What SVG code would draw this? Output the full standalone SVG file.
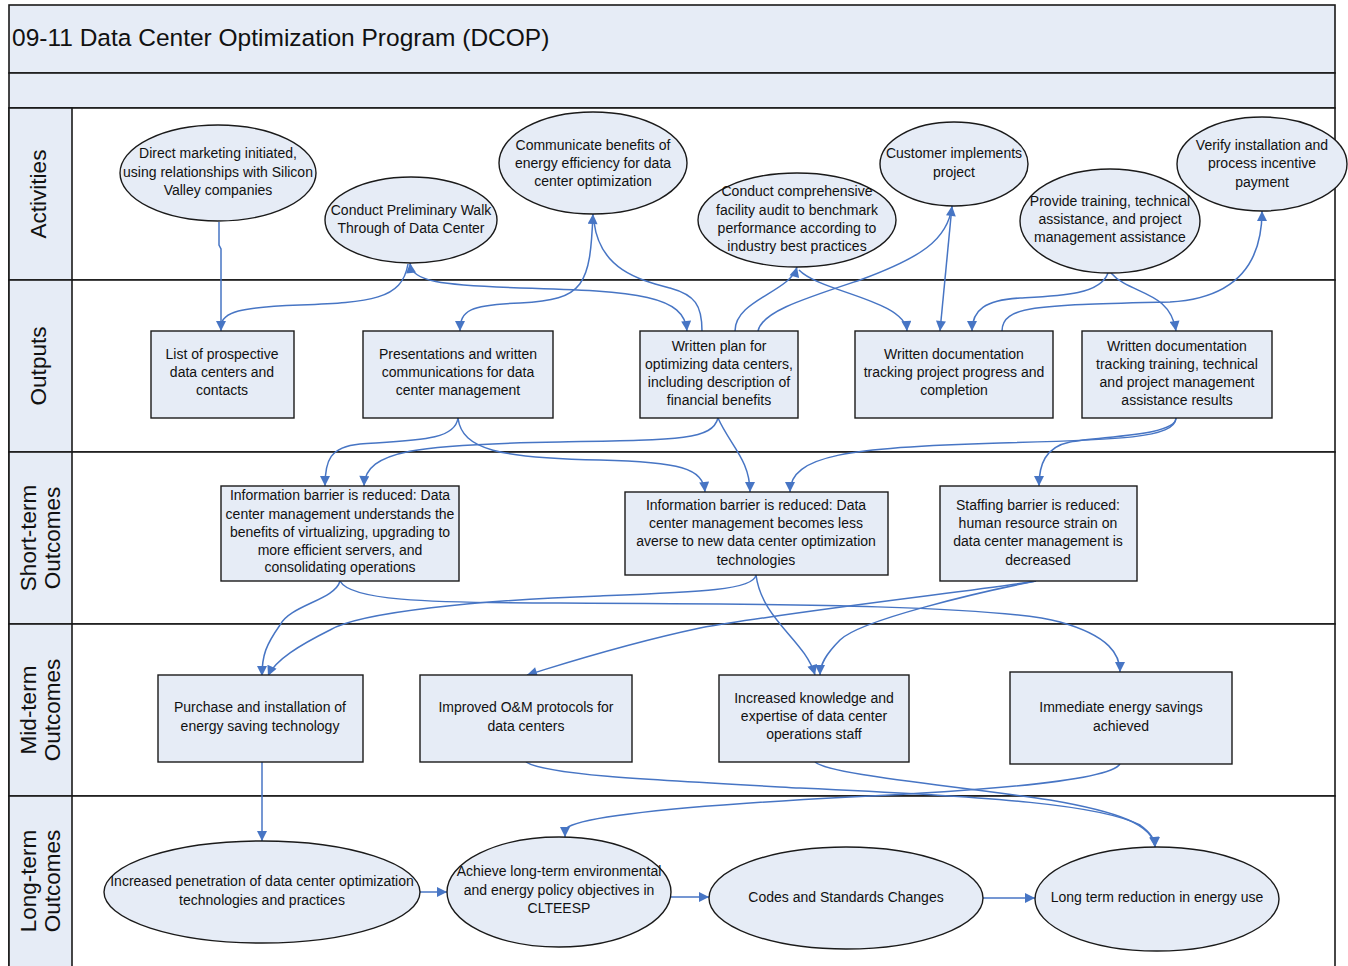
<svg xmlns="http://www.w3.org/2000/svg" width="1348" height="966" viewBox="0 0 1348 966">
  <defs>
    <style>
      .band { fill: #e6ecf6; stroke: #1a1a1a; stroke-width: 1.6; }
      .lane { fill: #ffffff; stroke: #1a1a1a; stroke-width: 1.6; }
      .head { fill: #e6ecf6; stroke: #1a1a1a; stroke-width: 1.6; }
      .node { fill: #e6ecf6; stroke: #1a1a1a; stroke-width: 1.4; }
      .title { font-family: "Liberation Sans", Arial, sans-serif; font-size: 24.5px; fill: #111; }
      .lbl { font-family: "Liberation Sans", Arial, sans-serif; font-size: 22.5px; fill: #111; text-anchor: middle; }
      .t { font-family: "Liberation Sans", Arial, sans-serif; font-size: 14px; fill: #111; text-anchor: middle; }
      .c { fill: none; stroke: #4775c4; stroke-width: 1.5; }
      .a { marker-end: url(#arr); }
      .s { marker-start: url(#arr); }
    </style>
    <marker id="arr" viewBox="0 0 10 10" refX="10" refY="5" markerUnits="userSpaceOnUse" markerWidth="12" markerHeight="10" orient="auto-start-reverse">
      <path d="M0,0 L10,5 L0,10 z" fill="#4775c4"/>
    </marker>
  </defs>

  <!-- frame, title and swimlanes -->
  <g id="frame">
    <rect class="band" x="9" y="5" width="1326" height="68"/>
    <rect class="band" x="9" y="73" width="1326" height="35"/>
    <rect class="lane" x="9" y="108" width="1326" height="172"/>
    <rect class="lane" x="9" y="280" width="1326" height="172"/>
    <rect class="lane" x="9" y="452" width="1326" height="172"/>
    <rect class="lane" x="9" y="624" width="1326" height="172"/>
    <rect class="lane" x="9" y="796" width="1326" height="180"/>
    <rect class="head" x="9" y="108" width="63" height="172"/>
    <rect class="head" x="9" y="280" width="63" height="172"/>
    <rect class="head" x="9" y="452" width="63" height="172"/>
    <rect class="head" x="9" y="624" width="63" height="172"/>
    <rect class="head" x="9" y="796" width="63" height="180"/>
    <text class="title" x="12" y="46">09-11 Data Center Optimization Program (DCOP)</text>
    <text class="lbl" transform="translate(46,194) rotate(-90)">Activities</text>
    <text class="lbl" transform="translate(46,366) rotate(-90)">Outputs</text>
    <text class="lbl" transform="translate(36,538) rotate(-90)">Short-term</text>
    <text class="lbl" transform="translate(60,538) rotate(-90)">Outcomes</text>
    <text class="lbl" transform="translate(36,710) rotate(-90)">Mid-term</text>
    <text class="lbl" transform="translate(60,710) rotate(-90)">Outcomes</text>
    <text class="lbl" transform="translate(36,881) rotate(-90)">Long-term</text>
    <text class="lbl" transform="translate(60,881) rotate(-90)">Outcomes</text>
  </g>

  <!-- connectors -->
  <g id="connectors">
    <path class="c a" d="M219,222 L219,245 L221,249 L221,331"/>
    <path class="c" d="M408,264 C402,300 370,302 300,305 C240,307 222,312 221,326"/>
    <path class="c a s" d="M410,263 C412,282 440,285 520,288 C640,291 684,296 687,331"/>
    <path class="c a s" d="M593,214 C590,285 585,300 520,303 C470,305 460,310 460,331"/>
    <path class="c" d="M594,222 C600,270 640,280 670,288 C695,295 702,305 702,331"/>
    <path class="c a" d="M735,331 C735,300 790,292 797,267"/>
    <path class="c a" d="M758,331 C762,312 800,300 860,280 C920,258 948,240 952,206"/>
    <path class="c a" d="M799,270 C820,292 905,300 907,331"/>
    <path class="c a" d="M952,206 L940,331"/>
    <path class="c a" d="M1108,273 C1100,295 1060,296 1020,298 C985,300 972,310 972,331"/>
    <path class="c a" d="M1002,331 C1002,305 1040,305 1170,302 C1240,298 1262,260 1262,211"/>
    <path class="c a" d="M1111,273 C1130,295 1170,290 1176,331"/>

    <path class="c a" d="M458,418 C455,440 420,440 360,444 C330,447 325,460 325,486"/>
    <path class="c a" d="M718,418 C712,440 680,440 560,442 C420,444 365,450 364,486"/>
    <path class="c a" d="M458,418 C462,450 500,458 600,460 C680,462 703,468 705,492"/>
    <path class="c a" d="M718,418 C730,445 750,460 750,492"/>
    <path class="c a" d="M1176,418 C1175,438 1120,440 1000,443 C850,447 790,455 790,492"/>
    <path class="c a" d="M1176,418 C1176,436 1100,436 1070,442 C1045,447 1039,465 1039,486"/>

    <path class="c a" d="M340,581 C335,600 290,605 280,625 C266,645 262,655 262,676"/>
    <path class="c a" d="M340,581 C350,600 420,603 560,603 C800,604 1000,606 1060,622 C1110,636 1120,655 1120,672"/>
    <path class="c a" d="M756,575 C754,590 700,592 600,596 C480,600 360,612 330,630 C300,645 275,660 268,676"/>
    <path class="c a" d="M756,575 C762,620 805,640 815,675"/>
    <path class="c a" d="M1036,581 C1000,588 800,610 700,628 C620,645 560,665 527,675"/>
    <path class="c a" d="M1036,581 C980,592 860,620 840,640 C825,655 820,665 820,675"/>

    <path class="c a" d="M262,762 L262,841"/>
    <path class="c a" d="M526,762 C545,775 650,780 800,788 C1000,797 1100,805 1140,825 C1150,832 1155,840 1155,847"/>
    <path class="c a" d="M815,762 C830,775 950,785 1050,800 C1120,812 1153,825 1155,847"/>
    <path class="c a" d="M1120,764 C1110,780 1000,790 850,797 C700,805 590,815 568,827 C565,830 565,833 565,837"/>
    <path class="c a" d="M420,892 L447,892"/>
    <path class="c a" d="M671,897 L709,897"/>
    <path class="c a" d="M983,898 L1035,898"/>
  </g>

  <!-- activities -->
  <g id="a1">
    <ellipse class="node" cx="218" cy="173" rx="98" ry="48"/>
    <text class="t" x="218" y="158">Direct marketing initiated,</text>
    <text class="t" x="218" y="177">using relationships with Silicon</text>
    <text class="t" x="218" y="195">Valley companies</text>
  </g>
  <g id="a2">
    <ellipse class="node" cx="411" cy="220" rx="86" ry="43"/>
    <text class="t" x="411" y="215">Conduct Preliminary Walk</text>
    <text class="t" x="411" y="233">Through of Data Center</text>
  </g>
  <g id="a3">
    <ellipse class="node" cx="593" cy="163" rx="94" ry="51"/>
    <text class="t" x="593" y="150">Communicate benefits of</text>
    <text class="t" x="593" y="168">energy efficiency for data</text>
    <text class="t" x="593" y="186">center optimization</text>
  </g>
  <g id="a4">
    <ellipse class="node" cx="797" cy="220" rx="99" ry="47"/>
    <text class="t" x="797" y="196">Conduct comprehensive</text>
    <text class="t" x="797" y="215">facility audit to benchmark</text>
    <text class="t" x="797" y="233">performance according to</text>
    <text class="t" x="797" y="251">industry best practices</text>
  </g>
  <g id="a5">
    <ellipse class="node" cx="954" cy="164" rx="74" ry="42"/>
    <text class="t" x="954" y="158">Customer implements</text>
    <text class="t" x="954" y="177">project</text>
  </g>
  <g id="a6">
    <ellipse class="node" cx="1110" cy="221" rx="90" ry="52"/>
    <text class="t" x="1110" y="206">Provide training, technical</text>
    <text class="t" x="1110" y="224">assistance, and project</text>
    <text class="t" x="1110" y="242">management assistance</text>
  </g>
  <g id="a7">
    <ellipse class="node" cx="1262" cy="164" rx="85" ry="47"/>
    <text class="t" x="1262" y="150">Verify installation and</text>
    <text class="t" x="1262" y="168">process incentive</text>
    <text class="t" x="1262" y="187">payment</text>
  </g>

  <!-- outputs -->
  <g id="o1">
    <rect class="node" x="151" y="331" width="143" height="87"/>
    <text class="t" x="222" y="359">List of prospective</text>
    <text class="t" x="222" y="377">data centers and</text>
    <text class="t" x="222" y="395">contacts</text>
  </g>
  <g id="o2">
    <rect class="node" x="363" y="331" width="190" height="87"/>
    <text class="t" x="458" y="359">Presentations and written</text>
    <text class="t" x="458" y="377">communications for data</text>
    <text class="t" x="458" y="395">center management</text>
  </g>
  <g id="o3">
    <rect class="node" x="640" y="331" width="158" height="87"/>
    <text class="t" x="719" y="351">Written plan for</text>
    <text class="t" x="719" y="369">optimizing data centers,</text>
    <text class="t" x="719" y="387">including description of</text>
    <text class="t" x="719" y="405">financial benefits</text>
  </g>
  <g id="o4">
    <rect class="node" x="855" y="331" width="198" height="87"/>
    <text class="t" x="954" y="359">Written documentation</text>
    <text class="t" x="954" y="377">tracking project progress and</text>
    <text class="t" x="954" y="395">completion</text>
  </g>
  <g id="o5">
    <rect class="node" x="1082" y="331" width="190" height="87"/>
    <text class="t" x="1177" y="351">Written documentation</text>
    <text class="t" x="1177" y="369">tracking training, technical</text>
    <text class="t" x="1177" y="387">and project management</text>
    <text class="t" x="1177" y="405">assistance results</text>
  </g>

  <!-- short-term outcomes -->
  <g id="s1">
    <rect class="node" x="221" y="486" width="238" height="95"/>
    <text class="t" x="340" y="500">Information barrier is reduced: Data</text>
    <text class="t" x="340" y="519">center management understands the</text>
    <text class="t" x="340" y="537">benefits of virtualizing, upgrading to</text>
    <text class="t" x="340" y="555">more efficient servers, and</text>
    <text class="t" x="340" y="572">consolidating operations</text>
  </g>
  <g id="s2">
    <rect class="node" x="625" y="492" width="263" height="83"/>
    <text class="t" x="756" y="510">Information barrier is reduced: Data</text>
    <text class="t" x="756" y="528">center management becomes less</text>
    <text class="t" x="756" y="546">averse to new data center optimization</text>
    <text class="t" x="756" y="565">technologies</text>
  </g>
  <g id="s3">
    <rect class="node" x="940" y="486" width="197" height="95"/>
    <text class="t" x="1038" y="510">Staffing barrier is reduced:</text>
    <text class="t" x="1038" y="528">human resource strain on</text>
    <text class="t" x="1038" y="546">data center management is</text>
    <text class="t" x="1038" y="565">decreased</text>
  </g>

  <!-- mid-term outcomes -->
  <g id="m1">
    <rect class="node" x="158" y="675" width="205" height="87"/>
    <text class="t" x="260" y="712">Purchase and installation of</text>
    <text class="t" x="260" y="731">energy saving technology</text>
  </g>
  <g id="m2">
    <rect class="node" x="420" y="675" width="212" height="87"/>
    <text class="t" x="526" y="712">Improved O&amp;M protocols for</text>
    <text class="t" x="526" y="731">data centers</text>
  </g>
  <g id="m3">
    <rect class="node" x="719" y="675" width="190" height="87"/>
    <text class="t" x="814" y="703">Increased knowledge and</text>
    <text class="t" x="814" y="721">expertise of data center</text>
    <text class="t" x="814" y="739">operations staff</text>
  </g>
  <g id="m4">
    <rect class="node" x="1010" y="672" width="222" height="92"/>
    <text class="t" x="1121" y="712">Immediate energy savings</text>
    <text class="t" x="1121" y="731">achieved</text>
  </g>

  <!-- long-term outcomes -->
  <g id="l1">
    <ellipse class="node" cx="262" cy="892" rx="158" ry="51"/>
    <text class="t" x="262" y="886">Increased penetration of data center optimization</text>
    <text class="t" x="262" y="905">technologies and practices</text>
  </g>
  <g id="l2">
    <ellipse class="node" cx="559" cy="892" rx="112" ry="55"/>
    <text class="t" x="559" y="876">Achieve long-term environmental</text>
    <text class="t" x="559" y="895">and energy policy objectives in</text>
    <text class="t" x="559" y="913">CLTEESP</text>
  </g>
  <g id="l3">
    <ellipse class="node" cx="846" cy="898" rx="137" ry="51"/>
    <text class="t" x="846" y="902">Codes and Standards Changes</text>
  </g>
  <g id="l4">
    <ellipse class="node" cx="1157" cy="899" rx="122" ry="52"/>
    <text class="t" x="1157" y="902">Long term reduction in energy use</text>
  </g>
</svg>
